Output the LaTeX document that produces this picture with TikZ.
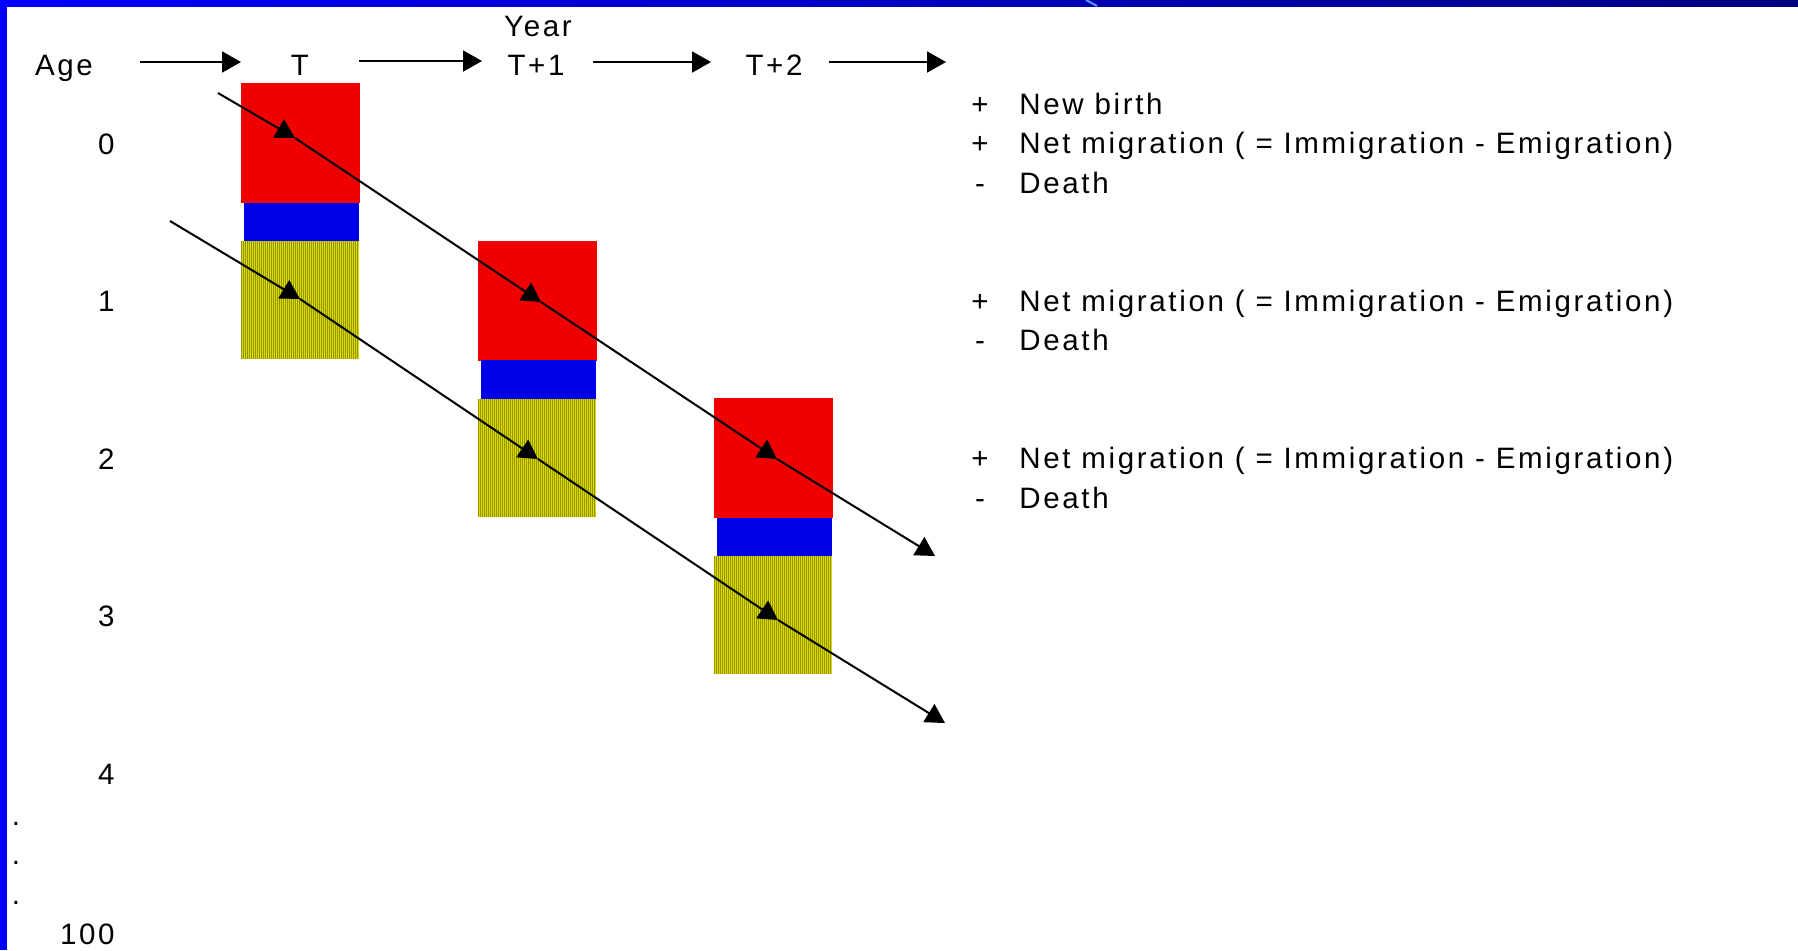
\documentclass[tikz,border=0pt]{standalone}
\usepackage{fontspec}
\setmainfont{Liberation Sans}[LetterSpace=9]
\usetikzlibrary{arrows.meta}
\definecolor{barblue}{RGB}{0,0,255}
\definecolor{barnavy}{RGB}{0,0,128}
\definecolor{streak}{RGB}{90,150,255}
\definecolor{boxred}{RGB}{240,0,0}
\definecolor{boxblue}{RGB}{0,0,232}
\definecolor{ylw}{RGB}{218,218,0}
\definecolor{ylwdark}{RGB}{150,150,0}
\begin{document}
\begin{tikzpicture}[x=0.5pt,y=-0.5pt,
  lbl/.style={inner sep=0pt, font=\fontsize{14.75}{17}\selectfont, anchor=base},
  agelbl/.style={lbl, anchor=base east},
  txt/.style={lbl, anchor=base west},
  flow/.style={line width=1pt, -{Triangle[length=9.5pt,width=10.5pt]}},
  redcell/.style={draw=none, fill=boxred, inner sep=0pt, minimum width=59.5pt, minimum height=60pt},
  bluecell/.style={draw=none, fill=boxblue, inner sep=0pt, minimum width=57.5pt, minimum height=19.5pt},
  ylwcell/.style={draw=none, fill=ylw, inner sep=0pt, minimum width=59pt, minimum height=59pt,
    path picture={\foreach \s in {0.3,1.3,...,59}
      \draw[ylwdark, line width=0.45pt]
        ([xshift=\s pt]path picture bounding box.north west) --
        ([xshift=\s pt]path picture bounding box.south west);}}
]
\useasboundingbox (0,0) rectangle (1798,950);
\fill[white] (0,0) rectangle (1798,950);
% frame of the slide
\shade[left color=barblue, right color=barnavy] (0,0) rectangle (1798,6);
\draw[streak, line width=1pt] (1086,0) -- (1097,6);
\fill[barblue] (0,0) rectangle (7,950);

% header
\node[lbl] (age) at (64,75) {Age};
\node[lbl] (tT) at (300,75) {T};
\node[lbl] (year) at (538,36) {Year};
\node[lbl] (tT1) at (536,75) {T+1};
\node[lbl] (tT2) at (774,75) {T+2};
\coordinate (h1s) at (140,62); \coordinate (h1e) at (241,62);
\coordinate (h2s) at (359,61); \coordinate (h2e) at (482,61);
\coordinate (h3s) at (593,62); \coordinate (h3e) at (711,62);
\coordinate (h4s) at (829,62); \coordinate (h4e) at (946,62);
\draw[flow] (h1s) -- (h1e);
\draw[flow] (h2s) -- (h2e);
\draw[flow] (h3s) -- (h3e);
\draw[flow] (h4s) -- (h4e);

% age labels
\node[agelbl] (a0) at (115,154) {0};
\node[agelbl] (a1) at (115,311.5) {1};
\node[agelbl] (a2) at (115,469) {2};
\node[agelbl] (a3) at (115,626.5) {3};
\node[agelbl] (a4) at (115,784) {4};
\node[lbl] (d1) at (16,825) {.};
\node[lbl] (d2) at (16,864.5) {.};
\node[lbl] (d3) at (16,904) {.};
\node[agelbl] (a100) at (115,944) {100};

% cohort boxes
\foreach \k/\dx/\dy in {1/0/0, 2/236.5/157.5, 3/473/315} {
  \node[redcell] (r\k) at (300.5+\dx,143+\dy) {};
  \node[bluecell] (b\k) at (301.5+\dx,222+\dy) {};
  \node[ylwcell] (y\k) at (300+\dx,300+\dy) {};
}

% cohort lines
\coordinate (u0) at (218,93);
\coordinate (u1) at (295,138);
\coordinate (u2) at (541,302);
\coordinate (u3) at (777,459);
\coordinate (u4) at (935,556);
\coordinate (l0) at (170,221);
\coordinate (l1) at (300,299);
\coordinate (l2) at (538,459);
\coordinate (l3) at (778,620);
\coordinate (l4) at (945,723);
\draw[flow] (u0) -- (u1);
\draw[flow] (u1) -- (u2);
\draw[flow] (u2) -- (u3);
\draw[flow] (u3) -- (u4);
\draw[flow] (l0) -- (l1);
\draw[flow] (l1) -- (l2);
\draw[flow] (l2) -- (l3);
\draw[flow] (l3) -- (l4);

% components of change
\node[lbl] (s11) at (980,114) {+};
\node[txt] (c11) at (1019,114) {New birth};
\node[lbl] (s12) at (980,153.5) {+};
\node[txt] (c12) at (1019,153.5) {Net migration ( = Immigration - Emigration)};
\node[lbl] (s13) at (980,193) {-};
\node[txt] (c13) at (1019,193) {Death};
\node[lbl] (s21) at (980,311) {+};
\node[txt] (c21) at (1019,311) {Net migration ( = Immigration - Emigration)};
\node[lbl] (s22) at (980,350.5) {-};
\node[txt] (c22) at (1019,350.5) {Death};
\node[lbl] (s31) at (980,468.5) {+};
\node[txt] (c31) at (1019,468.5) {Net migration ( = Immigration - Emigration)};
\node[lbl] (s32) at (980,508) {-};
\node[txt] (c32) at (1019,508) {Death};
\end{tikzpicture}
\end{document}
